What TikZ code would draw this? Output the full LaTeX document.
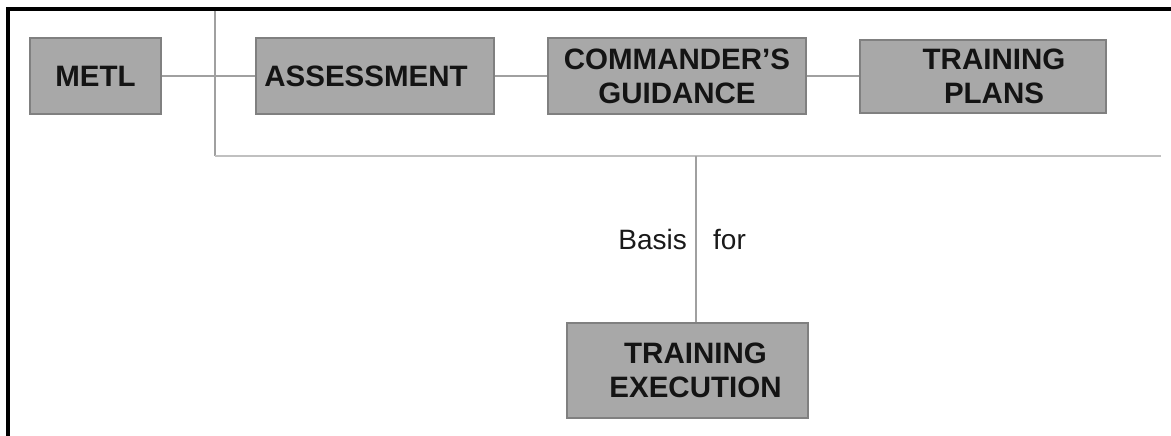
\documentclass[tikz,border=0pt]{standalone}
\usepackage{fontspec}
\setmainfont{Liberation Sans}
\begin{document}
\begin{tikzpicture}[x=1pt,y=-1pt,
  box/.style={draw=boxedge,fill=boxfill,line width=1.2pt,inner sep=0pt,align=center,
    font=\fontsize{29.5}{34}\selectfont\bfseries,text=black!92},
  conn/.style={draw=connclr,line width=1.3pt},
  lbl/.style={font=\fontsize{28}{33}\selectfont,inner sep=0pt,text=black!90}]
\definecolor{boxfill}{HTML}{A8A8A8}
\definecolor{boxedge}{HTML}{808080}
\definecolor{connclr}{HTML}{A0A0A0}
\definecolor{barclr}{HTML}{C0C0C0}
\useasboundingbox (0,0) rectangle (1171,436);
% frame
\draw[line width=4pt,line cap=rect] (8,436) -- (8,9) -- (1171,9);
% nodes
\node[box,minimum width=131pt,minimum height=76pt] (metl) at (95.5,76) {METL};
\node[box,minimum width=238pt,minimum height=76pt] (assess) at (375,76) {\hspace*{-18pt}ASSESSMENT};
\node[box,minimum width=258pt,minimum height=76pt] (guid) at (677,76) {COMMANDER'S\\GUIDANCE};
\node[box,minimum width=246pt,minimum height=73pt] (plans) at (983,76.5) {\hspace*{22pt}TRAINING\\\hspace*{22pt}PLANS};
\node[box,minimum width=241pt,minimum height=95pt] (exec) at (687.5,370.5) {\hspace*{16pt}TRAINING\\\hspace*{16pt}EXECUTION};
% bracket lines
\coordinate (vtop) at (215,11);
\coordinate (vbot) at (215,156);
\coordinate (hend) at (1161,156);
\coordinate (bj) at (696,156);
\draw[conn] (vtop) -- (vbot);
\draw[draw=barclr,line width=2pt] (vbot) -- (hend);
% connectors
\draw[conn] (metl.east) -- (assess.west);
\draw[conn] (assess.east) -- (guid.west);
\draw[conn] (guid.east) -- (plans.west |- guid.east);
\draw[conn] (bj) -- (bj |- exec.north);
% labels
\node[lbl,anchor=base east] (basis) at (687,249) {Basis};
\node[lbl,anchor=base west] (for) at (713,249) {for};
\end{tikzpicture}
\end{document}
